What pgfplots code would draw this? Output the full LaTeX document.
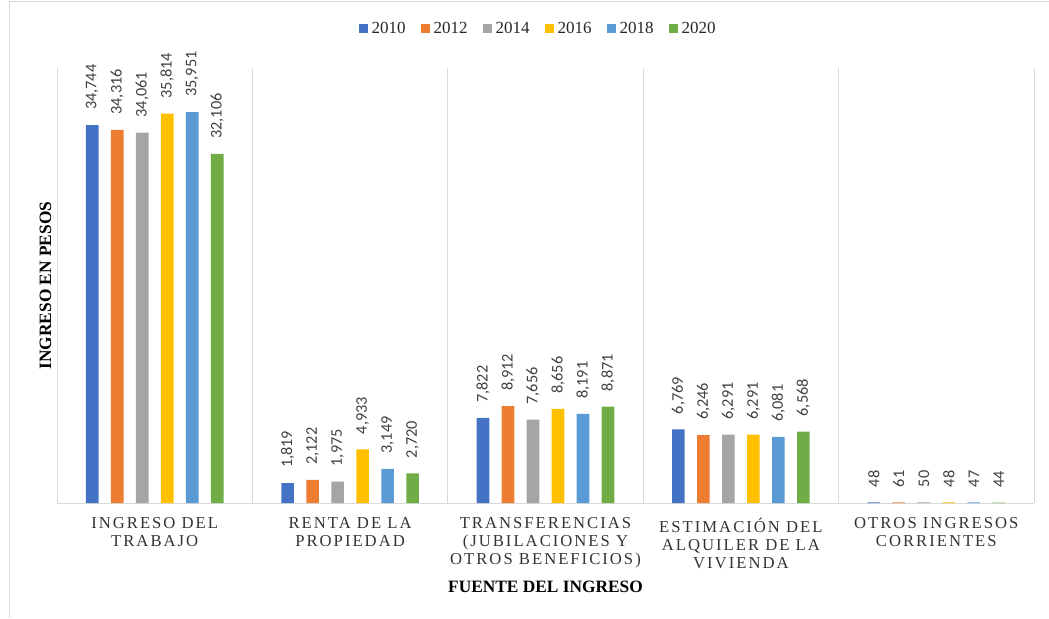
\documentclass[border=0pt]{standalone}
\usepackage{fontspec}
\setmainfont{Liberation Serif}
\newfontfamily\lblfont{Carlito}
\newfontfamily\catfont{Liberation Serif}[LetterSpace=12]
\usepackage{pgfplots}
\usepackage{pgfplotstable}
\pgfplotsset{compat=1.18}
\definecolor{c2010}{HTML}{4472C4}
\definecolor{c2012}{HTML}{ED7D31}
\definecolor{c2014}{HTML}{A5A5A5}
\definecolor{c2016}{HTML}{FFC000}
\definecolor{c2018}{HTML}{5B9BD5}
\definecolor{c2020}{HTML}{70AD47}
\definecolor{gridc}{HTML}{D9D9D9}
\definecolor{txtc}{HTML}{404040}

% ingreso por fuente, en pesos
\pgfplotstableread{
x  y2010 y2012 y2014 y2016 y2018 y2020
0  34744 34316 34061 35814 35951 32106
1  1819  2122  1975  4933  3149  2720
2  7822  8912  7656  8656  8191  8871
3  6769  6246  6291  6291  6081  6568
4  48    61    50    48    47    44
}\ingreso

\pgfplotsset{ybar legend/.style={legend image code/.code={\fill[##1,draw=none] (0pt,-3.375pt) rectangle (6.75pt,3.375pt);}}}

\begin{document}
\begin{tikzpicture}
\path[use as bounding box] (0,0) rectangle (786.75pt,463.5pt);
\draw[gridc,line width=0.75pt] (6.75pt,0) -- (6.75pt,462pt) -- (786.75pt,462pt);
\begin{axis}[
  at={(42.75pt,86.25pt)}, anchor=south west,
  scale only axis, width=732.75pt, height=326.25pt,
  ybar=9.25pt, bar width=9.5pt,
  xmin=-0.5, xmax=4.5, ymin=0, ymax=40000,
  axis y line*=left, axis x line*=bottom,
  y axis line style={draw=none},
  x axis line style={gridc, line width=0.75pt, -},
  xtick={0,...,4}, minor xtick={-0.5,0.5,...,4.5},
  xminorgrids, minor grid style={gridc, line width=0.75pt},
  major tick length=0pt, minor tick length=0pt,
  ytick=\empty,
  xticklabels={{INGRESO DEL\\TRABAJO},{RENTA DE LA\\PROPIEDAD},{TRANSFERENCIAS\\(JUBILACIONES Y\\OTROS BENEFICIOS)},{ESTIMACIÓN DEL\\ALQUILER DE LA\\VIVIENDA},{OTROS INGRESOS\\CORRIENTES}},
  xticklabel style={font=\catfont\fontsize{12.5}{13.5}\selectfont, align=center, text=black!80, anchor=north, inner sep=0pt, yshift=-11pt},
  xlabel={FUENTE DEL INGRESO},
  xlabel style={at={(axis description cs:0.5,-0.2046)}, anchor=base, font=\bfseries\fontsize{13}{15}\selectfont, text=black},
  ylabel={INGRESO EN PESOS},
  ylabel style={at={(axis description cs:-0.0118,0.5)}, anchor=center, rotate=0, font=\bfseries\fontsize{13}{15}\selectfont, text=black},
  legend columns=6,
  legend style={at={(0.4913,1.0897)}, anchor=center, draw=none, fill=none,
    font=\fontsize{12.75}{14}\selectfont, text=black!85,
    /tikz/every odd column/.append style={column sep=3pt},
    /tikz/every even column/.append style={column sep=11.25pt},
    nodes={inner sep=0pt}},
  /pgf/number format/fixed, /pgf/number format/precision=0,
  /pgf/number format/1000 sep={,}, /pgf/number format/assume math mode=true,
  nodes near coords,
  every node near coord/.append style={rotate=90, anchor=west, font=\lblfont\fontsize{12.2}{14}\selectfont, text=txtc, inner ysep=0pt, inner xsep=11.25pt},
]
\addplot[fill=c2010, draw=none] table[x=x,y=y2010]{\ingreso};
\addplot[fill=c2012, draw=none] table[x=x,y=y2012]{\ingreso};
\addplot[fill=c2014, draw=none] table[x=x,y=y2014]{\ingreso};
\addplot[fill=c2016, draw=none] table[x=x,y=y2016]{\ingreso};
\addplot[fill=c2018, draw=none] table[x=x,y=y2018]{\ingreso};
\addplot[fill=c2020, draw=none] table[x=x,y=y2020]{\ingreso};
\legend{2010,2012,2014,2016,2018,2020}
\end{axis}
\end{tikzpicture}
\end{document}
